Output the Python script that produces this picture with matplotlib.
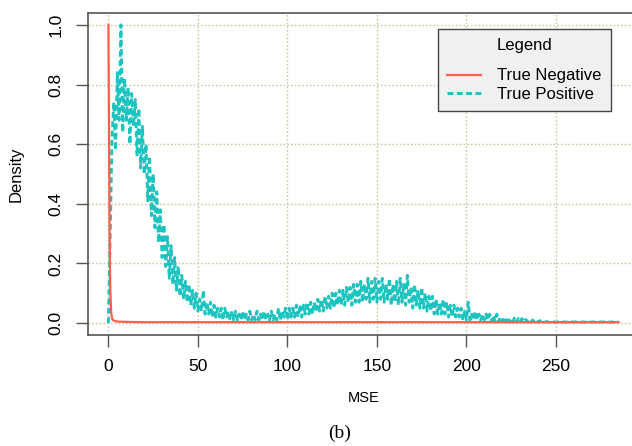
import matplotlib
matplotlib.use("Agg")
import matplotlib.pyplot as plt
import numpy as np

plt.rcParams['font.family'] = ['Liberation Sans', 'DejaVu Sans']

# True Negative density (MSE, density)
tn_mse = [0, 0.3, 0.6, 1.0, 1.5, 2.0, 3.0, 5.0, 10, 20, 50, 100, 150, 200, 250, 285]
tn_density = [1.0, 0.70, 0.35, 0.12, 0.04, 0.015, 0.008, 0.005, 0.004, 0.003,
              0.003, 0.003, 0.003, 0.003, 0.003, 0.003]

# True Positive density, one value per MSE unit starting at 0
tp_density = [
    0.00, 0.30, 0.62, 0.74, 0.58, 0.84, 0.68, 1.00, 0.64, 0.82,
    0.68, 0.79, 0.60, 0.77, 0.66, 0.75, 0.56, 0.72, 0.52, 0.66,
    0.50, 0.60, 0.41, 0.56, 0.36, 0.50, 0.32, 0.44, 0.27, 0.38,
    0.22, 0.33, 0.19, 0.29, 0.15, 0.26, 0.13, 0.22, 0.11, 0.19,
    0.09, 0.16, 0.08, 0.14, 0.07, 0.13, 0.06, 0.11, 0.05, 0.10,
    0.04, 0.08, 0.04, 0.11, 0.03, 0.07, 0.03, 0.07, 0.02, 0.06,
    0.02, 0.05, 0.02, 0.05, 0.01, 0.05, 0.02, 0.04, 0.01, 0.04,
    0.01, 0.04, 0.01, 0.03, 0.01, 0.04, 0.01, 0.03, 0.01, 0.04,
    0.01, 0.03, 0.01, 0.04, 0.01, 0.03, 0.01, 0.04, 0.01, 0.03,
    0.01, 0.04, 0.01, 0.03, 0.01, 0.05, 0.01, 0.04, 0.02, 0.05,
    0.01, 0.05, 0.02, 0.05, 0.02, 0.06, 0.02, 0.06, 0.02, 0.06,
    0.03, 0.07, 0.03, 0.07, 0.03, 0.07, 0.04, 0.08, 0.04, 0.08,
    0.04, 0.09, 0.05, 0.09, 0.05, 0.10, 0.05, 0.10, 0.06, 0.11,
    0.06, 0.11, 0.06, 0.12, 0.07, 0.12, 0.06, 0.13, 0.07, 0.13,
    0.07, 0.14, 0.07, 0.13, 0.08, 0.15, 0.07, 0.14, 0.08, 0.15,
    0.07, 0.14, 0.08, 0.15, 0.07, 0.13, 0.08, 0.15, 0.06, 0.13,
    0.07, 0.14, 0.06, 0.15, 0.07, 0.13, 0.06, 0.16, 0.07, 0.12,
    0.05, 0.13, 0.06, 0.11, 0.05, 0.12, 0.05, 0.10, 0.04, 0.09,
    0.04, 0.09, 0.03, 0.08, 0.03, 0.07, 0.03, 0.08, 0.03, 0.07,
    0.02, 0.06, 0.02, 0.06, 0.02, 0.05, 0.02, 0.05, 0.01, 0.04,
    0.01, 0.07, 0.01, 0.03, 0.01, 0.04, 0.01, 0.03, 0.01, 0.03,
    0.01, 0.03, 0.01, 0.03, 0.005, 0.025, 0.005, 0.03, 0.005, 0.02,
    0.005, 0.02, 0.005, 0.02, 0.004, 0.015, 0.005, 0.02, 0.004, 0.015,
    0.004, 0.015, 0.004, 0.012, 0.004, 0.012, 0.003, 0.01, 0.003, 0.009,
    0.003, 0.008, 0.003, 0.006, 0.003, 0.005, 0.003, 0.005, 0.003, 0.004,
    0.003, 0.004, 0.003, 0.004, 0.003, 0.004, 0.003, 0.004, 0.003, 0.004,
    0.003, 0.004, 0.003, 0.004, 0.003, 0.004, 0.003, 0.004, 0.003, 0.004,
    0.003, 0.004, 0.003, 0.004, 0.003, 0.004, 0.003, 0.004, 0.003, 0.004,
    0.003, 0.004, 0.003, 0.004, 0.003, 0.004,
]
tp_mse = list(range(len(tp_density)))

x_ticks = [0, 50, 100, 150, 200, 250]
y_ticks = [0.0, 0.2, 0.4, 0.6, 0.8, 1.0]
y_tick_labels = ["0.0", "0.2", "0.4", "0.6", "0.8", "1.0"]

W, H = 632, 446
fig = plt.figure(figsize=(W / 100, H / 100), dpi=100)
left, right, top, bottom = 88, 639, 13, 335
ax = fig.add_axes([left / W, 1 - bottom / H, (right - left) / W, (bottom - top) / H])

red = '#F8604F'
cyan = '#1CC4C0'
ax.plot(tn_mse, tn_density, color=red, lw=1.6, zorder=3, label='True Negative')
ax.plot(tp_mse, tp_density, color=cyan, lw=2.1, ls=(0, (2.0, 1.2)), zorder=2,
        label='True Positive')

ax.set_xlim(-11.4, 296.4)
ax.set_ylim(-0.04, 1.04)
ax.set_xticks(x_ticks)
ax.set_yticks(y_ticks)
ax.set_yticklabels(y_tick_labels, rotation=90, va='center')
ax.tick_params(axis='both', direction='out', length=8.5, width=1.0, color='#555555',
               labelsize=12.5)
ax.tick_params(axis='x', pad=9)
ax.tick_params(axis='y', pad=9)
ax.grid(True, color='#cfc6a8', ls=(0, (1.2, 1.5)), lw=1.0)
ax.set_axisbelow(True)
for s in ax.spines.values():
    s.set_color('#555555')
    s.set_linewidth(1.2)

ax.set_ylabel('Density', fontsize=12, labelpad=18)
ax.set_xlabel('MSE', fontsize=10.5, labelpad=12)

leg = ax.legend(title='Legend', loc='upper left', bbox_to_anchor=(350 / 551, 1 - 16 / 322),
                fontsize=12, title_fontsize=12, frameon=True, fancybox=False,
                handlelength=2.0, borderpad=0.55, labelspacing=0.2,
                handletextpad=1.0, borderaxespad=0)
leg._legend_box.sep = 11
leg.get_frame().set_facecolor('#f0f0f0')
leg.get_frame().set_edgecolor('#444444')
leg.get_frame().set_linewidth(1.0)
leg.get_frame().set_alpha(1.0)

fig.text(340 / W, 1 - 433 / H, '(b)', fontsize=14, family='Liberation Serif',
         ha='center', va='center')

fig.savefig('out.png', dpi=100)
